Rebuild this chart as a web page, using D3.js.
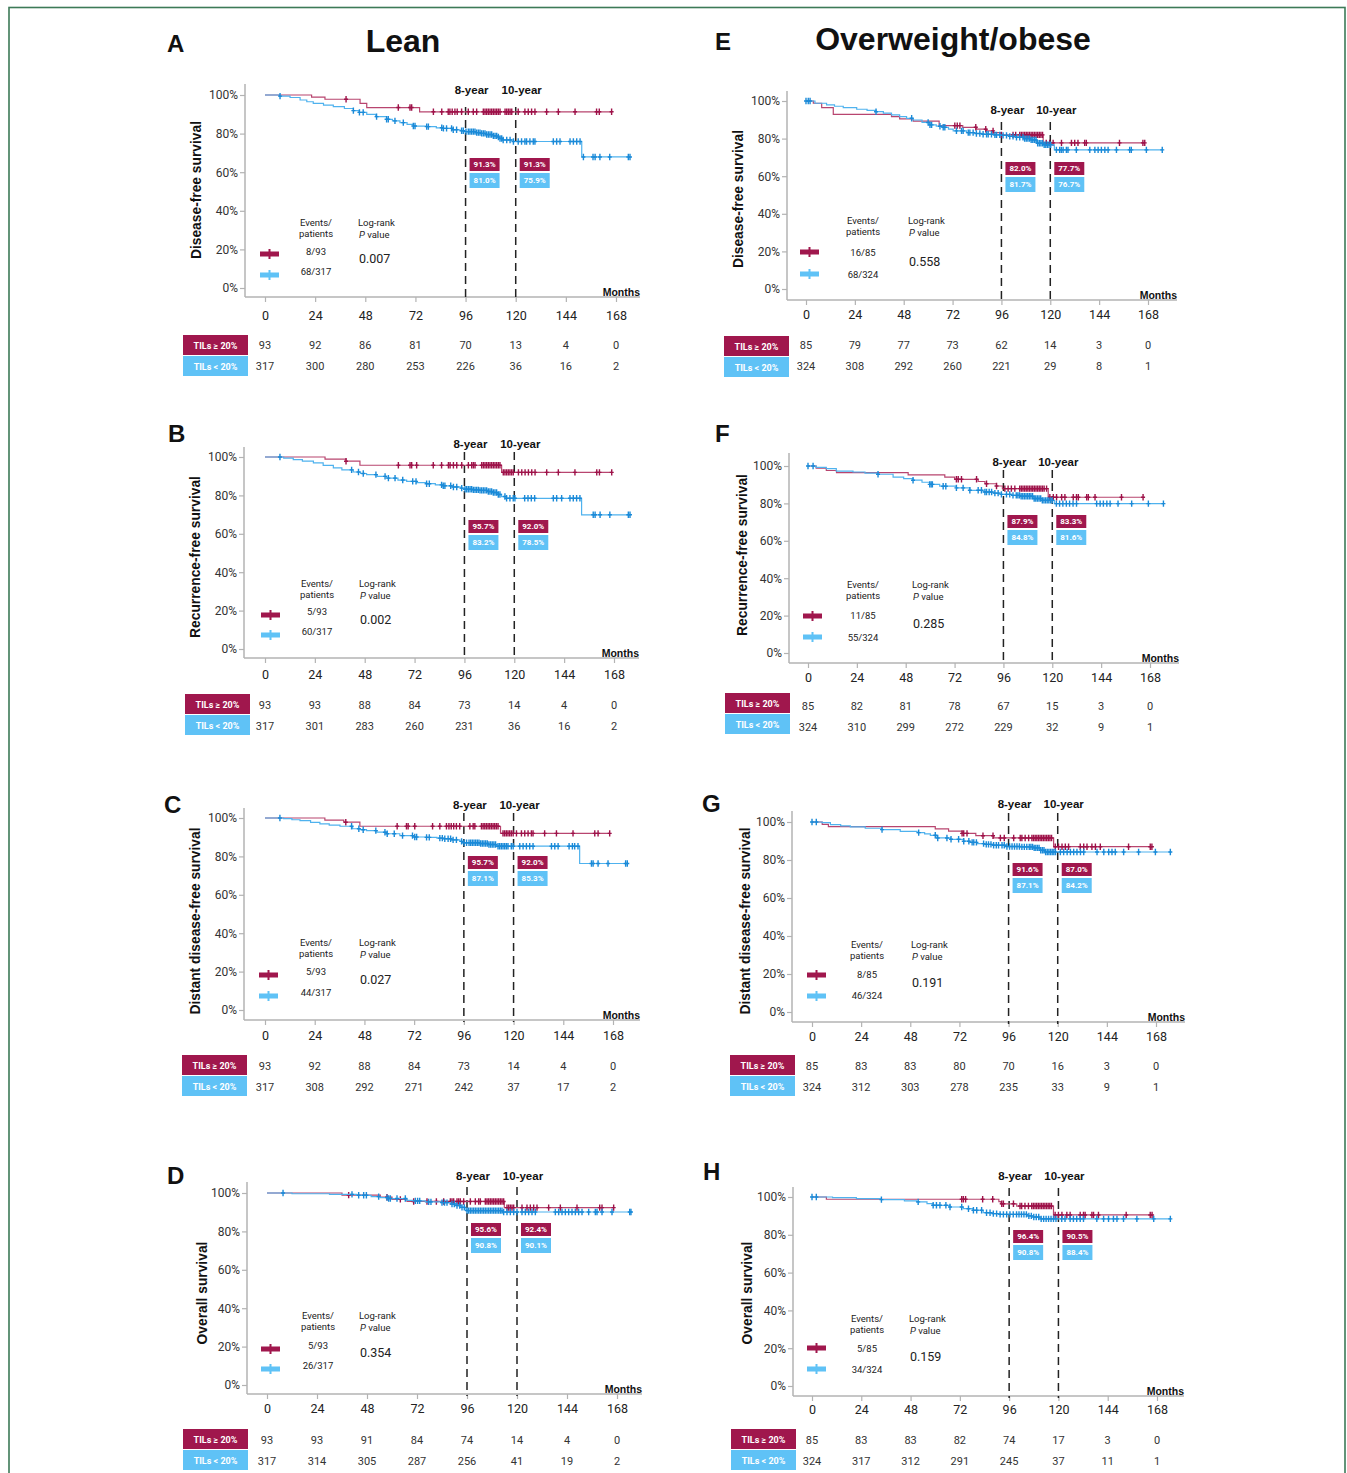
<!DOCTYPE html>
<html>
<head>
<meta charset="utf-8">
<script src="https://cdn.jsdelivr.net/npm/d3@7"></script>
<style>
  body { margin: 0; background: #fff; }
  svg { display: block; }
</style>
</head>
<body>
<svg id="fig" width="1347" height="1473"></svg>
<script>
// ---------- shared labels ----------
const months = [0, 24, 48, 72, 96, 120, 144, 168];
const survivalTicks = [0, 20, 40, 60, 80, 100];
const milestoneMonths = [96, 120];
const milestoneLabels = ['8-year', '10-year'];
const groupLabels = ['TILs \u2265 20%', 'TILs < 20%'];
const cohortTitles = ['Lean', 'Overweight/obese'];
const panelLetters = ['A', 'B', 'C', 'D', 'E', 'F', 'G', 'H'];
const endpointTitles = [
  'Disease-free survival', 'Recurrence-free survival', 'Distant disease-free survival', 'Overall survival',
  'Disease-free survival', 'Recurrence-free survival', 'Distant disease-free survival', 'Overall survival'
];

// ---------- per-panel statistics ----------
const eventsHigh = ['8/93', '5/93', '5/93', '5/93', '16/85', '11/85', '8/85', '5/85'];
const eventsLow = ['68/317', '60/317', '44/317', '26/317', '68/324', '55/324', '46/324', '34/324'];
const logRankP = ['0.007', '0.002', '0.027', '0.354', '0.558', '0.285', '0.191', '0.159'];
const rate8High = [91.3, 95.7, 95.7, 95.6, 82.0, 87.9, 91.6, 96.4];
const rate10High = [91.3, 92.0, 92.0, 92.4, 77.7, 83.3, 87.0, 90.5];
const rate8Low = [81.0, 83.2, 87.1, 90.8, 81.7, 84.8, 87.1, 90.8];
const rate10Low = [75.9, 78.5, 85.3, 90.1, 76.7, 81.6, 84.2, 88.4];

// numbers at risk at 0, 24, ... 168 months
const atRiskHigh = [
  [93, 92, 86, 81, 70, 13, 4, 0], [93, 93, 88, 84, 73, 14, 4, 0],
  [93, 92, 88, 84, 73, 14, 4, 0], [93, 93, 91, 84, 74, 14, 4, 0],
  [85, 79, 77, 73, 62, 14, 3, 0], [85, 82, 81, 78, 67, 15, 3, 0],
  [85, 83, 83, 80, 70, 16, 3, 0], [85, 83, 83, 82, 74, 17, 3, 0]
];
const atRiskLow = [
  [317, 300, 280, 253, 226, 36, 16, 2], [317, 301, 283, 260, 231, 36, 16, 2],
  [317, 308, 292, 271, 242, 37, 17, 2], [317, 314, 305, 287, 256, 41, 19, 2],
  [324, 308, 292, 260, 221, 29, 8, 1], [324, 310, 299, 272, 229, 32, 9, 1],
  [324, 312, 303, 278, 235, 33, 9, 1], [324, 317, 312, 291, 245, 37, 11, 1]
];

// ---------- Kaplan-Meier steps [month, survival %] and censoring months ----------
// A: lean, disease-free survival
const stepsHighA = [[0,100],[22.3,98.9],[28.7,97.8],[45.5,95.7],[48.7,93.5],[74,91.3]];
const censHighA = [38.8,63.8,69.4,70.2,80.6,84.6,87.7,88.5,89.6,90.9,92,94.1,97.3,99.7,101.3,104.5,105.3,106.1,106.9,107.7,108.5,109.3,110.1,110.9,111.7,112.5,114.9,115.7,116.5,117.3,118.1,121.2,124.4,126,127.6,129.2,134.8,140.4,148.4,158.7,160,165.9];
const stepsLowA = [[0,100],[7,99.4],[12,98.7],[16.8,97.4],[20,96.5],[23.1,95.7],[28,94.8],[32.7,94.0],[38,93.0],[42.3,91.9],[45,91.0],[48.7,90.0],[53,88.8],[58.2,87.4],[61,86.6],[64.6,85.7],[68,84.8],[71,83.9],[77.4,83.6],[82,83.0],[85.4,82.7],[90,82.0],[93.3,81.5],[95.5,81.0],[101,80.5],[103,80.1],[106,79.5],[109.3,78.8],[111,78.2],[112,77.5],[114,76.7],[118.9,75.9],[151.6,67.9]];
const censLowA = [7.2,42.3,45.2,47,53.4,58.2,59,62.2,66.2,71,71.8,77.4,78.2,84.6,85.4,86.9,89.3,90.1,91.7,94.1,94.9,96.2,97.3,98.1,98.9,99.7,100.5,101.3,102.1,102.9,103.7,104.5,105.3,106.1,106.9,107.7,108.5,109.3,110.1,110.9,111.7,112.5,113.3,114,115.7,117.3,118.9,121.2,122.8,124.4,125.2,126.8,128.4,129.2,138,139.6,141.2,146,147.6,149.2,150.8,152.4,157,158,160.3,165,173.9,174.7];

// B: lean, recurrence-free survival
const stepsHighB = [[0,100],[28.9,98.9],[39,97.8],[45.7,95.7],[113.9,92.0]];
const censHighB = [39,64.2,69.8,70.6,73,81,85,88.3,89.1,90.7,92.3,94.7,97.9,99.5,100.3,101.1,104.3,105.1,105.9,106.7,107.5,108.3,109.1,109.9,110.7,111.5,112.3,113.1,114.7,115.5,116.3,117.1,117.9,118.7,119.5,122,123.6,125.2,126.8,128.4,130,135.6,141.2,149.2,159.7,161,166.9];
const stepsLowB = [[0,100],[9,99.4],[13.6,98.6],[18,97.8],[23.3,96.9],[28,95.6],[32.9,94.3],[37,93.3],[42.5,92.2],[46,91.4],[48.9,90.8],[54,89.9],[58.6,89.0],[64,88.0],[68.2,87.3],[73,86.7],[77.8,86.1],[82,85.5],[85.8,85.0],[90,84.4],[93.9,83.8],[96,83.2],[100,82.9],[103.5,82.6],[107,82.0],[109.9,81.5],[112,80.5],[113.9,79.4],[116.3,78.5],[152.4,69.9]];
const censLowB = [7.2,41.7,45,47.3,53.4,57.8,59.4,62.6,66.3,71.1,72.7,77.8,79.1,85,85.8,86.6,89.4,90.7,92.3,94.7,96.3,97.1,97.9,98.7,99.5,100.3,101.1,101.9,102.7,103.5,104.3,105.1,105.9,106.7,107.5,108.3,109.1,109.9,110.7,111.5,112.3,113.1,115.5,116.3,117.9,119.5,120.3,125,126.6,128.2,129.8,138.8,140.4,142.8,146.8,148.4,150,151.6,158,158.9,161.3,166,174.9,175.7];

// C: lean, distant disease-free survival
const stepsHighC = [[0,100],[28.9,98.9],[38,97.8],[45.8,95.7],[113.7,92.0]];
const censHighC = [39,63.8,68.3,69.1,72.3,80.9,84.4,87.6,88.8,89.9,91.1,92.4,94,98.9,100.5,101.3,104.5,105.3,106.1,106.9,107.7,108.5,109.3,110.1,110.9,111.7,112.5,114.9,115.7,116.5,117.3,118.1,118.9,119.8,121.4,123.8,125.4,127,128.6,129.4,135,140.7,148.7,159.2,160.8,166.4];
const stepsLowC = [[0,100],[9,99.7],[13,99.1],[16.9,98.6],[22,97.7],[26.5,96.9],[31,96.3],[36.2,95.7],[42.3,94.4],[46,93.9],[49,93.4],[54,92.6],[58.7,91.8],[65.1,90.8],[71.5,90.1],[78,89.9],[83,89.5],[86,89.2],[90,88.6],[94,87.8],[95.5,87.1],[103.7,86.7],[108,86.2],[111.7,85.3],[151.9,76.3]];
const censLowC = [7.2,41.8,45.3,47.4,53.5,57.9,59,62.4,66.4,71.2,72.3,73.2,78,79.3,84.4,85.6,86.8,88.4,89.6,90.8,92.4,94.9,96.1,97.3,98.5,99.3,100.1,100.9,101.7,102.5,103.3,104.1,104.9,105.7,106.5,107.3,108.1,108.9,109.7,110.5,111.3,112.5,113.3,114.1,114.9,115.7,116.5,117.3,118.9,119.8,123,124.6,126.2,127.8,129.4,138.3,139.9,141.5,146.8,148.4,149.5,151.1,157.6,158.4,160.8,165.6,174.1,174.9];

// D: lean, overall survival
const stepsHighD = [[0,100],[36,98.9],[54.4,97.8],[60,96.7],[67.2,95.6],[113.9,92.4]];
const censHighD = [39.2,57.6,64,70.4,76.8,81.3,84.8,88,88.8,89.6,91.2,92,92.8,94.4,97.6,100,101.6,102.4,104.8,105.6,106.4,107.2,108,108.8,109.6,110.4,111.2,112,112.8,113.6,115.2,116,116.8,117.6,118.4,122.4,124.8,126.4,128,129.6,135.2,140.8,148.8,159.7,160.8,166.4];
const stepsLowD = [[0,100],[12,99.6],[30,99.3],[43,98.8],[50,98.1],[54.4,97.6],[58,97.1],[67.2,96.2],[70,95.9],[76,95.4],[84,95.0],[88,94.3],[91,93.5],[93,92.5],[95,91.6],[96,90.8],[113,90.1]];
const censLowD = [7.7,40.8,44,46.4,47.7,53.6,57.6,58.4,59.2,62.4,66.4,71.2,72.3,73.3,77.6,78.7,84,85.2,86.4,88.8,89.9,91.2,92.5,93.6,94.7,96,96.8,97.6,98.4,99.2,100,100.8,101.6,102.4,103.2,104,104.8,105.6,106.4,107.2,108,108.8,109.6,110.4,111.2,112,112.8,113.6,115.2,116.8,118.4,120,122.4,124,125.6,127.2,128.8,138.4,140,141.6,143.2,144.8,146.4,148,149.6,151.2,154.4,157.6,158.4,160.8,165.6,174.1,174.7];

// E: overweight/obese, disease-free survival
const stepsHighE = [[0,100],[3.6,98.8],[7.7,96.5],[13.4,92.9],[42,91.7],[46,90.5],[52.7,89.3],[65.4,86.9],[77,86.0],[83.8,85.0],[88.7,84.1],[92,83.2],[95.5,82.0],[116.5,77.7]];
const censHighE = [73.1,74.3,75.6,83.4,88.3,91.9,96,101.7,103,105,105.8,106.6,107.4,108.2,109,109.8,110.6,111.4,112.2,113,113.8,114.6,115.4,116.2,118,119.7,121.4,125.5,130.4,132,133.6,136.9,137.7,154,165.5,166.4];
const stepsLowE = [[0,100],[4.4,98.8],[10.1,97.9],[14,97.2],[18.3,96.5],[24.9,95.6],[30,95.0],[34.4,94.3],[38,93.5],[42,92.6],[46,91.7],[49.4,90.8],[52.7,89.9],[57,88.6],[60.9,87.3],[64,86.6],[67.4,86.0],[70,85.0],[72.3,84.1],[78.8,83.2],[83,82.7],[87,82.3],[92,82.0],[95.5,81.7],[100,81.2],[103.4,80.7],[107,80.0],[109.9,79.3],[113.2,77.5],[117,76.7],[122,74.0]];
const censLowE = [0,1.1,2,34.4,51.9,60,60.9,61.7,65.8,67.4,68.2,73.9,76.4,77.2,79.7,80.5,82.1,83.7,85.4,87,88.7,89.5,91.1,92.8,93.6,95.2,96.8,98.5,100.1,101.7,103.4,105,106.6,107.4,108.2,109,109.8,110.6,111.4,112.2,113,113.8,114.6,115.4,116.2,117,117.8,118.6,119.4,120.2,123,124.6,125.4,126.3,127.9,128.7,132.8,139.4,141.9,143.5,145.1,146.8,148.4,152.5,159,159.8,167.2,175];

// F: overweight/obese, recurrence-free survival
const stepsHighF = [[0,100],[4,98.8],[9,97.6],[14,96.5],[49.2,95.3],[67.2,94.1],[72,92.9],[83.6,91.7],[86.9,90.5],[92.6,89.3],[95.5,87.9],[118,83.3]];
const censHighF = [72.9,73.8,75.4,82.8,87.7,92.6,96.7,98.3,99.9,101.6,104,104.8,105.6,106.4,107.2,108,108.8,109.6,110.4,111.2,112,112.8,113.6,114.4,115.2,116,117.2,118.8,120.5,122.1,124.6,126.2,130.3,131.9,132.8,136.9,137.7,141,154,164.6];
const stepsLowF = [[0,100],[4,99.3],[9,98.6],[13.9,97.3],[22.1,96.8],[28,96.2],[34.4,95.6],[41.8,94.1],[47,93.2],[51.6,92.4],[56,91.3],[59.8,90.2],[64.7,89.2],[72.9,88.3],[79.5,87.0],[86,86.1],[91,85.5],[95,84.8],[100,84.3],[104,83.8],[110.6,82.6],[115,81.6],[121,79.9]];
const censLowF = [0,2.5,34.4,51.6,59.8,60.5,61.1,66.4,67.7,72.9,76.2,79.5,83.6,85.2,86.9,87.7,89,90.2,91.8,93.4,95,97.5,99.1,100.7,102.3,103.1,103.9,104.7,105.5,106.3,107.1,107.9,108.7,109.5,110.3,111.1,111.9,112.7,113.5,114.3,115.1,115.9,116.7,117.5,118.3,119.1,120,122,123.6,125.2,126.9,128.5,130.2,131.9,141.8,143.5,145.1,146.8,148.4,152.3,159,167.2,174.6];

// G: overweight/obese, distant disease-free survival
const stepsHighG = [[0,100],[5,98.8],[8,97.6],[60.2,96.4],[66.7,95.2],[73.3,94.0],[80,92.8],[88.7,91.6],[118,87.0]];
const censHighG = [73.3,74.1,75.7,83.5,88.4,92,93.9,98.5,101.7,102.5,104.1,105.8,107.4,108.2,109,109.8,110.6,111.4,112.2,113,113.8,114.6,115.4,116.2,117,118.8,120.4,122.1,123.7,125.3,131,132.7,134.3,136.7,138.4,140.8,154.6,165.2,166];
const stepsLowG = [[0,100],[4.9,99.7],[9,98.6],[14,98.0],[18.7,97.4],[26,96.7],[34.2,96.0],[43.1,95.1],[51.3,94.4],[55,93.7],[57.8,93.0],[61,91.6],[67.6,90.9],[74.1,89.9],[77,89.3],[80.6,88.6],[84,88.2],[88.7,87.8],[95,87.1],[101.7,86.9],[108.3,86.4],[111.5,85.1],[113.5,84.2]];
const censLowG = [0,2.1,34.2,52.1,60.2,61.4,65.9,67.9,71.6,74.1,76.6,78.2,79,80.3,83.8,85.1,86.2,87.4,88.7,90,91.1,92.8,93.9,95.2,96.5,97.7,98.9,100.1,101.3,102.5,103.7,104.9,106.1,106.9,107.7,108.5,109.3,110.1,110.9,111.7,112.5,113.3,114.1,114.9,115.7,116.5,117.3,118.1,118.9,121.3,122.9,124.6,126.2,127.8,129.4,131.1,132.7,139.2,142.5,144.9,146.5,148.1,152.2,159.5,167.7,175];

// H: overweight/obese, overall survival
const stepsHighH = [[0,100],[7,98.8],[91,97.6],[92,96.4],[99.7,95.2],[117.6,90.5]];
const censHighH = [72.9,73.7,74.8,83.1,88,92.4,93.2,98.1,101.3,102.1,103.7,105.4,107,107.8,108.6,109.4,110.2,111,111.8,112.6,113.4,114.2,115,115.8,116.6,118.4,120,121.7,124.1,125.7,130.6,132.2,133,136.3,137.1,139.5,153,164.7,165.6];
const stepsLowH = [[0,100],[10,99.7],[21.6,99.1],[33.8,98.6],[45,97.9],[50.9,97.4],[56,96.5],[59,95.6],[67.2,94.7],[73.7,93.8],[78.5,93.0],[83.4,91.7],[88,91.2],[91.6,90.8],[104.6,90.0],[107.8,89.4],[111.1,88.4]];
const censLowH = [0,2.1,33.8,51.7,59,60.6,62.3,65.2,67.2,72.9,76.2,78.6,80.2,82.6,85,86.7,88.3,89.9,91.6,93.2,94.8,96.4,98,99.6,100.8,102,103.2,104.4,105.6,106.8,108,109.2,110.4,111.6,112.8,114,115.2,116.4,117.6,118.8,121.6,123.2,125.7,127.3,128.9,130.6,132.2,138.7,142,144.4,146.8,148.5,151.7,158.2,166.4,174.5];

const stepsHigh = [stepsHighA, stepsHighB, stepsHighC, stepsHighD, stepsHighE, stepsHighF, stepsHighG, stepsHighH];
const censHigh = [censHighA, censHighB, censHighC, censHighD, censHighE, censHighF, censHighG, censHighH];
const stepsLow = [stepsLowA, stepsLowB, stepsLowC, stepsLowD, stepsLowE, stepsLowF, stepsLowG, stepsLowH];
const censLow = [censLowA, censLowB, censLowC, censLowD, censLowE, censLowF, censLowG, censLowH];

// ---------- page geometry of each panel ----------
const frames = [
  {x0:265,x1:616,y0:288,y1:95, axX:245,axY:297,axTop:84, axRight:640,dashTop:107,yearY:94, boxTop:158,ttl:[196,190],letter:[167,52], hdrY:222,symY:[254,275],txtY:[251,271],evX:316,lrX:358,pY:258,symX:260,riskX:183,riskTop:335,rowY:[345,366],xlabY:315},
  {x0:265,x1:614,y0:649,y1:457,axX:244,axY:658,axTop:447,axRight:639,dashTop:452,yearY:448,boxTop:520,ttl:[195,557],letter:[168,442],hdrY:583,symY:[615,635],txtY:[611,631],evX:317,lrX:359,pY:619,symX:261,riskX:185,riskTop:694,rowY:[705,726],xlabY:674},
  {x0:265,x1:613,y0:1010,y1:818,axX:244,axY:1020,axTop:808,axRight:640,dashTop:813,yearY:809,boxTop:856,ttl:[195,921],letter:[164,813],hdrY:942,symY:[975,996],txtY:[971,992],evX:316,lrX:359,pY:979,symX:259,riskX:182,riskTop:1055,rowY:[1066,1087],xlabY:1035},
  {x0:267,x1:617,y0:1385,y1:1193,axX:247,axY:1394,axTop:1182,axRight:642,dashTop:1187,yearY:1180,boxTop:1223,ttl:[202,1293],letter:[167,1184],hdrY:1315,symY:[1349,1369],txtY:[1345,1365],evX:318,lrX:359,pY:1352,symX:261,riskX:183,riskTop:1429,rowY:[1440,1461],xlabY:1408},
  {x0:806,x1:1148,y0:289,y1:101,axX:787,axY:300,axTop:91, axRight:1177,dashTop:122,yearY:114,boxTop:162,ttl:[738,199],letter:[715,50], hdrY:220,symY:[252,274],txtY:[252,274],evX:863,lrX:908,pY:261,symX:800,riskX:724,riskTop:336,rowY:[345,366],xlabY:314},
  {x0:808,x1:1150,y0:653,y1:466,axX:789,axY:663,axTop:453,axRight:1179,dashTop:470,yearY:466,boxTop:515,ttl:[742,555],letter:[715,442],hdrY:584,symY:[616,637],txtY:[615,637],evX:863,lrX:912,pY:623,symX:803,riskX:725,riskTop:693,rowY:[706,727],xlabY:677},
  {x0:812,x1:1156,y0:1012,y1:822,axX:792,axY:1022,axTop:811,axRight:1185,dashTop:813,yearY:808,boxTop:863,ttl:[745,921],letter:[702,812],hdrY:944,symY:[975,996],txtY:[974,995],evX:867,lrX:911,pY:982,symX:807,riskX:730,riskTop:1055,rowY:[1066,1087],xlabY:1036},
  {x0:812,x1:1157,y0:1386,y1:1197,axX:793,axY:1396,axTop:1187,axRight:1184,dashTop:1188,yearY:1180,boxTop:1230,ttl:[747,1293],letter:[703,1180],hdrY:1318,symY:[1348,1369],txtY:[1348,1369],evX:867,lrX:909,pY:1356,symX:807,riskX:731,riskTop:1429,rowY:[1440,1461],xlabY:1409}
];
const titlePos = [[403, 52], [953, 50]];

// ---------- styles ----------
const MAROON = '#a0174d';
const SKY = '#5fc2f6';
const LINE_HIGH = '#b8456f';
const LINE_LOW = '#4fb2ee';
const MARK_HIGH = '#9e1249';
const MARK_LOW = '#1a8ad8';
const AXIS = '#b3b3b3';
const SANS = "Roboto, 'Liberation Sans', Arial, sans-serif";
const BOLD = "'Liberation Sans', Arial, sans-serif";

const svg = d3.select('#fig');
svg.append('rect').attr('width', 1347).attr('height', 1473).attr('fill', '#fff');
svg.append('rect')
  .attr('x', 9).attr('y', 7.5).attr('width', 1336).attr('height', 1520)
  .attr('fill', 'none').attr('stroke', '#3d7a58').attr('stroke-width', 1.6);

// cohort titles
cohortTitles.forEach((t, k) => {
  svg.append('text').attr('x', titlePos[k][0]).attr('y', titlePos[k][1])
    .attr('text-anchor', 'middle').attr('font-family', BOLD).attr('font-weight', 700)
    .attr('font-size', 32).attr('fill', '#111').text(t);
});

function survivalAt(steps, t) {
  let v = steps[0][1];
  for (const [tt, s] of steps) { if (tt <= t) v = s; else break; }
  return v;
}

function drawPanel(i) {
  const f = frames[i];
  const g = svg.append('g').attr('class', 'panel-' + panelLetters[i]);
  const x = d3.scaleLinear().domain([0, 168]).range([f.x0, f.x1]);
  const y = d3.scaleLinear().domain([0, 100]).range([f.y0, f.y1]);

  // panel letter and endpoint title
  g.append('text').attr('x', f.letter[0]).attr('y', f.letter[1])
    .attr('font-family', BOLD).attr('font-weight', 700).attr('font-size', 24).attr('fill', '#111')
    .text(panelLetters[i]);
  g.append('text')
    .attr('transform', `translate(${f.ttl[0]},${f.ttl[1]}) rotate(-90)`)
    .attr('text-anchor', 'middle').attr('dominant-baseline', 'central')
    .attr('font-family', BOLD).attr('font-weight', 700).attr('font-size', 13.8).attr('fill', '#111')
    .text(endpointTitles[i]);

  // axis lines
  g.append('line').attr('x1', f.axX).attr('x2', f.axX).attr('y1', f.axTop).attr('y2', f.axY)
    .attr('stroke', AXIS).attr('stroke-width', 1.5);
  g.append('line').attr('x1', f.axX).attr('x2', f.axRight).attr('y1', f.axY).attr('y2', f.axY)
    .attr('stroke', AXIS).attr('stroke-width', 1.5);

  const ya = g.append('g').attr('transform', `translate(${f.axX},0)`)
    .call(d3.axisLeft(y).tickValues(survivalTicks).tickSize(5).tickPadding(2).tickFormat(d => d + '%'));
  ya.select('.domain').remove();
  ya.selectAll('line').attr('stroke', AXIS).attr('stroke-width', 1.2);
  ya.selectAll('text').attr('font-family', SANS).attr('font-size', 12).attr('fill', '#333');

  const xa = g.append('g').attr('transform', `translate(0,${f.axY})`)
    .call(d3.axisBottom(x).tickValues(months).tickSize(5).tickPadding(f.xlabY - f.axY - 9));
  xa.select('.domain').remove();
  xa.selectAll('line').attr('stroke', AXIS).attr('stroke-width', 1.2);
  xa.selectAll('text').attr('font-family', SANS).attr('font-size', 12.5).attr('fill', '#222');

  g.append('text').attr('x', f.axRight).attr('y', f.axY - 1).attr('text-anchor', 'end')
    .attr('font-family', BOLD).attr('font-weight', 700).attr('font-size', 10.5).attr('fill', '#111')
    .text('Months');

  // milestone guides
  milestoneMonths.forEach((m, k) => {
    g.append('line').attr('x1', x(m)).attr('x2', x(m)).attr('y1', f.dashTop).attr('y2', f.axY + 2)
      .attr('stroke', '#222').attr('stroke-width', 1.5).attr('stroke-dasharray', '8,5');
    g.append('text').attr('x', x(m) + 6).attr('y', f.yearY).attr('text-anchor', 'middle')
      .attr('font-family', BOLD).attr('font-weight', 700).attr('font-size', 11.5).attr('fill', '#111')
      .text(milestoneLabels[k]);
  });

  // survival curves
  const groups = [
    { steps: stepsHigh[i], cens: censHigh[i], line: LINE_HIGH, mark: MARK_HIGH },
    { steps: stepsLow[i], cens: censLow[i], line: LINE_LOW, mark: MARK_LOW }
  ];
  const line = d3.line().x(d => x(d[0])).y(d => y(d[1])).curve(d3.curveStepAfter);
  groups.forEach(gr => {
    const end = Math.max(d3.max(gr.cens), gr.steps[gr.steps.length - 1][0]);
    const pts = gr.steps.concat([[end, gr.steps[gr.steps.length - 1][1]]]);
    g.append('path').attr('d', line(pts)).attr('fill', 'none')
      .attr('stroke', gr.line).attr('stroke-width', 1.2);
    g.append('g').selectAll('path').data(gr.cens).join('path')
      .attr('d', t => {
        const cx = x(t), cy = y(survivalAt(gr.steps, t));
        return `M${cx - 2},${cy}h4M${cx},${cy - 3.2}v6.4`;
      })
      .attr('stroke', gr.mark).attr('stroke-width', 1.4).attr('fill', 'none');
  });

  // milestone estimates
  const rates = [[rate8High[i], rate8Low[i]], [rate10High[i], rate10Low[i]]];
  milestoneMonths.forEach((m, k) => {
    const bx = x(m) + 4;
    [[MAROON, 0, 13], [SKY, 15, 15]].forEach(([col, dy, h], j) => {
      g.append('rect').attr('x', bx).attr('y', f.boxTop + dy).attr('width', 30).attr('height', h)
        .attr('fill', col);
      g.append('text').attr('x', bx + 15).attr('y', f.boxTop + dy + h / 2)
        .attr('text-anchor', 'middle').attr('dominant-baseline', 'central')
        .attr('font-family', SANS).attr('font-weight', 700).attr('font-size', 8).attr('fill', '#fff')
        .text(rates[k][j].toFixed(1) + '%');
    });
  });

  // legend
  const small = (sel) => sel.attr('font-family', SANS).attr('font-size', 9.5).attr('fill', '#222');
  small(g.append('text').attr('x', f.evX).attr('y', f.hdrY + 3.5).attr('text-anchor', 'middle')).text('Events/');
  small(g.append('text').attr('x', f.evX).attr('y', f.hdrY + 14.5).attr('text-anchor', 'middle')).text('patients');
  small(g.append('text').attr('x', f.lrX).attr('y', f.hdrY + 3.5)).text('Log-rank');
  const pv = small(g.append('text').attr('x', f.lrX + 1).attr('y', f.hdrY + 16));
  pv.append('tspan').attr('font-style', 'italic').text('P');
  pv.append('tspan').text(' value');
  g.append('text').attr('x', f.lrX + 1).attr('y', f.pY).attr('dominant-baseline', 'central')
    .attr('font-family', SANS).attr('font-size', 12.5).attr('fill', '#222').text(logRankP[i]);
  [[MAROON, eventsHigh[i]], [SKY, eventsLow[i]]].forEach(([col, txt], j) => {
    g.append('rect').attr('x', f.symX).attr('y', f.symY[j] - 2.5).attr('width', 19).attr('height', 5).attr('fill', col);
    g.append('rect').attr('x', f.symX + 8.5).attr('y', f.symY[j] - 5).attr('width', 2).attr('height', 10).attr('fill', col);
    small(g.append('text').attr('x', f.evX).attr('y', f.txtY[j]).attr('text-anchor', 'middle')
      .attr('dominant-baseline', 'central')).text(txt);
  });

  // numbers at risk
  const rows = [atRiskHigh[i], atRiskLow[i]];
  [MAROON, SKY].forEach((col, j) => {
    const top = f.riskTop + j * 21;
    g.append('rect').attr('x', f.riskX).attr('y', top).attr('width', 65).attr('height', 20).attr('fill', col);
    g.append('text').attr('x', f.riskX + 32.5).attr('y', top + 10.5)
      .attr('text-anchor', 'middle').attr('dominant-baseline', 'central')
      .attr('font-family', SANS).attr('font-weight', 700).attr('font-size', 9).attr('fill', '#fff')
      .text(groupLabels[j]);
    g.append('g').selectAll('text').data(months).join('text')
      .attr('x', m => x(m)).attr('y', f.rowY[j]).attr('text-anchor', 'middle')
      .attr('dominant-baseline', 'central')
      .attr('font-family', SANS).attr('font-size', 11).attr('fill', '#333')
      .text((m, k) => rows[j][k]);
  });
}

panelLetters.forEach((_, i) => drawPanel(i));
</script>
</body>
</html>
